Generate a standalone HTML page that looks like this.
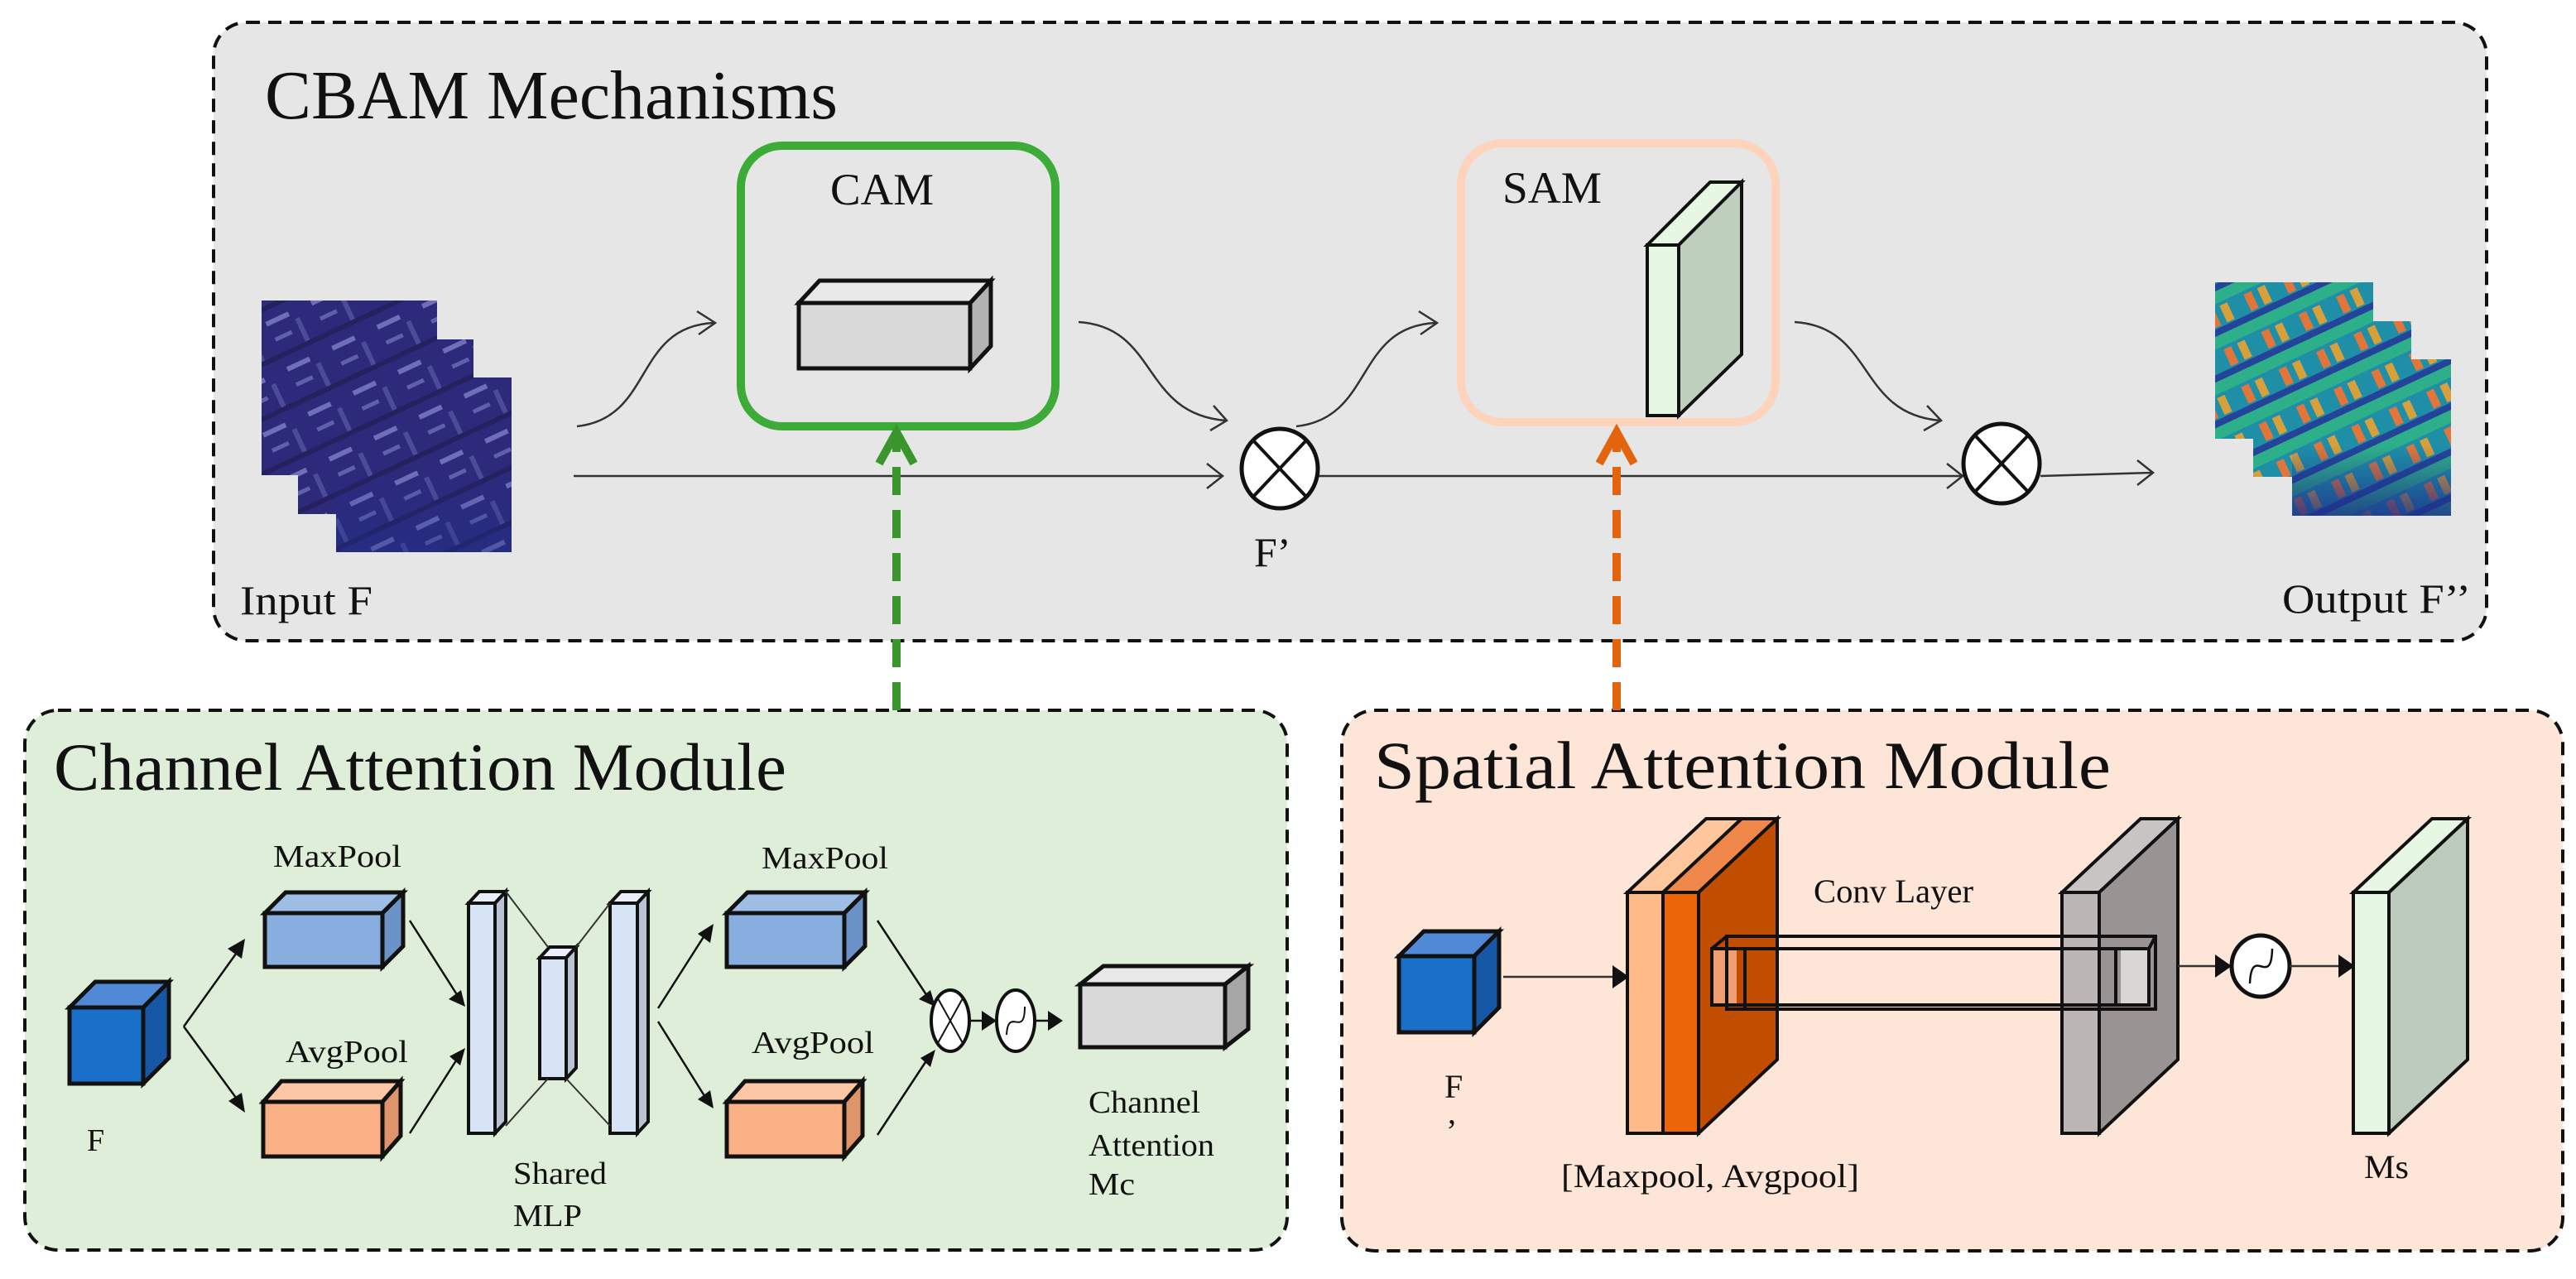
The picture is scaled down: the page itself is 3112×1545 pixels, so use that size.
<!DOCTYPE html>
<html><head><meta charset="utf-8"><style>
html,body{margin:0;padding:0;background:#fff;}
svg{display:block;}
text{font-family:"Liberation Serif",serif;fill:#111;}
</style></head><body>
<svg width="3112" height="1545" viewBox="0 0 3112 1545" xmlns="http://www.w3.org/2000/svg">
<defs>
<pattern id="sat" width="60" height="60" patternUnits="userSpaceOnUse" patternTransform="rotate(-25)">
<rect width="60" height="60" fill="#2d2a7c"/>
<rect x="6" y="8" width="30" height="6" fill="#6e6fb8"/>
<rect x="8" y="30" width="22" height="5" fill="#5e61aa"/>
<rect x="40" y="20" width="6" height="30" fill="#4b4c98"/>
<rect x="0" y="50" width="60" height="6" fill="#24215e"/>
</pattern>
<pattern id="heat" width="50" height="50" patternUnits="userSpaceOnUse" patternTransform="rotate(-25)">
<rect width="50" height="50" fill="#1f8fa8"/>
<rect x="0" y="0" width="50" height="14" fill="#2db08a"/>
<rect x="6" y="18" width="10" height="22" fill="#e2763a"/>
<rect x="24" y="18" width="10" height="22" fill="#d8a03a"/>
<rect x="0" y="42" width="50" height="8" fill="#24449a"/>
</pattern>
<linearGradient id="fadeb" x1="0" y1="0" x2="0" y2="1"><stop offset="0.55" stop-color="#1d2f8a" stop-opacity="0"/><stop offset="1" stop-color="#1d2f8a" stop-opacity="0.8"/></linearGradient>
</defs>

<!-- Top panel -->
<rect x="258" y="27" width="2746" height="747" rx="40" fill="#e6e6e6" stroke="#111" stroke-width="4" stroke-dasharray="16 10"/>
<text x="320" y="143" font-size="84" textLength="692" lengthAdjust="spacingAndGlyphs">CBAM Mechanisms</text>

<!-- input images -->
<rect x="316" y="363" width="212" height="211" fill="url(#sat)"/>
<rect x="360" y="410" width="212" height="211" fill="url(#sat)"/>
<rect x="406" y="456" width="212" height="211" fill="url(#sat)"/>
<rect x="406" y="456" width="212" height="211" fill="url(#fadeb)" opacity="0.5"/>
<text x="290" y="742" font-size="50" textLength="160" lengthAdjust="spacingAndGlyphs">Input F</text>

<!-- CAM box -->
<rect x="895" y="176" width="380" height="339" rx="50" fill="none" stroke="#3dab37" stroke-width="10"/>
<text x="1003" y="247" font-size="54" textLength="125" lengthAdjust="spacingAndGlyphs">CAM</text>
<g stroke="#111" stroke-width="5" stroke-linejoin="miter">
<polygon points="965,366 990,339 1197,339 1172,366" fill="#e9e9e9"/>
<polygon points="1172,366 1197,339 1197,418 1172,445" fill="#b3b3b3"/>
<rect x="965" y="366" width="207" height="79" fill="#d9d9d9"/>
</g>

<!-- SAM box -->
<rect x="1765" y="173" width="380" height="337" rx="50" fill="none" stroke="#fdd3bc" stroke-width="10"/>
<text x="1815" y="245" font-size="54" textLength="120" lengthAdjust="spacingAndGlyphs">SAM</text>
<g stroke="#111" stroke-width="4">
<polygon points="1990,296 2066,220 2104,220 2028,296" fill="#e6f8e3"/>
<polygon points="2028,296 2104,220 2104,428 2028,502" fill="#bfcfbd"/>
<rect x="1990" y="296" width="38" height="206" fill="#e6f8e3"/>
</g>

<!-- connectors top -->
<g fill="none" stroke="#333" stroke-width="2.5">
<path d="M697,515 C790,505 765,395 862,390"/>
<polyline points="842,376 864,390 844,404"/>
<path d="M1303,389 C1400,395 1378,500 1481,508"/>
<polyline points="1466,490 1482,508 1462,520"/>
<line x1="693" y1="575" x2="1476" y2="575"/>
<polyline points="1458,560 1477,575 1458,590"/>
<path d="M1566,515 C1660,505 1636,395 1734,390"/>
<polyline points="1714,376 1736,390 1716,404"/>
<path d="M2168,389 C2265,395 2243,500 2344,508"/>
<polyline points="2328,490 2345,508 2324,520"/>
<line x1="1592" y1="575" x2="2370" y2="575"/>
<polyline points="2352,560 2371,575 2352,590"/>
<line x1="2465" y1="575" x2="2600" y2="571"/>
<polyline points="2582,556 2601,571 2582,586"/>
</g>
<!-- otimes -->
<g stroke="#111" stroke-width="5" fill="#fff">
<ellipse cx="1546" cy="566" rx="46" ry="48"/>
<ellipse cx="2418" cy="560" rx="46" ry="48"/>
</g>
<g stroke="#111" stroke-width="4">
<line x1="1514" y1="532" x2="1578" y2="600"/><line x1="1578" y1="532" x2="1514" y2="600"/>
<line x1="2386" y1="526" x2="2450" y2="594"/><line x1="2450" y1="526" x2="2386" y2="594"/>
</g>
<text x="1515" y="684" font-size="50">F’</text>

<!-- output images -->
<rect x="2676" y="341" width="191" height="189" fill="url(#heat)"/>
<rect x="2722" y="388" width="191" height="188" fill="url(#heat)"/>
<rect x="2769" y="434" width="192" height="189" fill="url(#heat)"/>
<rect x="2769" y="434" width="192" height="189" fill="url(#fadeb)"/>
<text x="2757" y="740" font-size="50" textLength="228" lengthAdjust="spacingAndGlyphs">Output F’’</text>

<!-- Bottom-left panel -->
<rect x="30" y="858" width="1525" height="652" rx="40" fill="#deeed8" stroke="#111" stroke-width="4" stroke-dasharray="16 10"/>
<text x="65" y="954" font-size="82" textLength="885" lengthAdjust="spacingAndGlyphs">Channel Attention Module</text>

<!-- Bottom-right panel -->
<rect x="1621" y="858" width="1475" height="653" rx="40" fill="#fde5d7" stroke="#111" stroke-width="4" stroke-dasharray="16 10"/>
<text x="1660" y="952" font-size="82" textLength="890" lengthAdjust="spacingAndGlyphs">Spatial Attention Module</text>

<!-- dashed arrows -->
<line x1="1083" y1="858" x2="1083" y2="530" stroke="#3a962c" stroke-width="10" stroke-dasharray="34 18"/>
<polyline points="1062,560 1083,522 1104,560" fill="none" stroke="#3a962c" stroke-width="10"/>
<line x1="1953" y1="858" x2="1953" y2="530" stroke="#e4640e" stroke-width="10" stroke-dasharray="34 18"/>
<polyline points="1932,560 1953,522 1974,560" fill="none" stroke="#e4640e" stroke-width="10"/>

<!-- Channel module contents -->
<g stroke="#111" stroke-width="5">
<!-- F cube -->
<polygon points="84,1217 115,1186 204,1186 173,1217" fill="#508ad6"/>
<polygon points="173,1217 204,1186 204,1278 173,1309" fill="#1658a6"/>
<rect x="84" y="1217" width="89" height="92" fill="#1a70c9"/>
<!-- MaxPool1 -->
<polygon points="320,1103 345,1078 487,1078 462,1103" fill="#9fbee6"/>
<polygon points="462,1103 487,1078 487,1143 462,1168" fill="#6c93c8"/>
<rect x="320" y="1103" width="142" height="65" fill="#87aedf"/>
<!-- AvgPool1 -->
<polygon points="318,1331 340,1306 484,1306 462,1331" fill="#fcc7a4"/>
<polygon points="462,1331 484,1306 484,1372 462,1397" fill="#e0946a"/>
<rect x="318" y="1331" width="144" height="66" fill="#fbb185"/>
<!-- MaxPool2 -->
<polygon points="878,1103 903,1078 1045,1078 1020,1103" fill="#9fbee6"/>
<polygon points="1020,1103 1045,1078 1045,1143 1020,1168" fill="#6c93c8"/>
<rect x="878" y="1103" width="142" height="65" fill="#87aedf"/>
<!-- AvgPool2 -->
<polygon points="878,1331 900,1306 1042,1306 1020,1331" fill="#fcc7a4"/>
<polygon points="1020,1331 1042,1306 1042,1372 1020,1397" fill="#e0946a"/>
<rect x="878" y="1331" width="142" height="66" fill="#fbb185"/>
<!-- gray cuboid -->
<polygon points="1305,1189 1333,1167 1508,1167 1480,1189" fill="#e8e8e8"/>
<polygon points="1480,1189 1508,1167 1508,1243 1480,1265" fill="#a6a6a6"/>
<rect x="1305" y="1189" width="175" height="76" fill="#d9d9d9"/>
</g>
<g stroke="#111" stroke-width="4">
<!-- bars -->
<polygon points="566,1091 579,1077 611,1077 598,1091" fill="#e8effa"/>
<polygon points="598,1091 611,1077 611,1355 598,1369" fill="#b9c3d3"/>
<rect x="566" y="1091" width="32" height="278" fill="#d6e4f5"/>
<polygon points="652,1157 664,1144 696,1144 684,1157" fill="#e8effa"/>
<polygon points="684,1157 696,1144 696,1290 684,1303" fill="#b9c3d3"/>
<rect x="652" y="1157" width="32" height="146" fill="#d6e4f5"/>
<polygon points="737,1091 750,1077 783,1077 770,1091" fill="#e8effa"/>
<polygon points="770,1091 783,1077 783,1355 770,1369" fill="#b9c3d3"/>
<rect x="737" y="1091" width="33" height="278" fill="#d6e4f5"/>
</g>
<g stroke="#333" stroke-width="2">
<line x1="611" y1="1077" x2="662" y2="1144"/>
<line x1="696" y1="1144" x2="737" y2="1091"/>
<line x1="611" y1="1360" x2="662" y2="1303"/>
<line x1="684" y1="1303" x2="737" y2="1360"/>
</g>
<!-- arrows channel -->
<g stroke="#111" stroke-width="2.5">
<line x1="222" y1="1240" x2="288" y2="1148"/>
<line x1="222" y1="1240" x2="288" y2="1330"/>
<line x1="495" y1="1112" x2="553" y2="1203"/>
<line x1="495" y1="1369" x2="553" y2="1278"/>
<line x1="795" y1="1218" x2="853" y2="1127"/>
<line x1="795" y1="1234" x2="853" y2="1327"/>
<line x1="1060" y1="1112" x2="1120" y2="1203"/>
<line x1="1060" y1="1371" x2="1120" y2="1280"/>
<line x1="1172" y1="1233" x2="1190" y2="1233"/>
<line x1="1250" y1="1233" x2="1268" y2="1233"/>
</g>
<g fill="#111">
<polygon points="296,1134 275,1146 292,1158"/>
<polygon points="296,1344 276,1330 292,1320"/>
<polygon points="562,1216 542,1207 557,1196"/>
<polygon points="562,1266 543,1276 556,1287"/>
<polygon points="862,1116 843,1128 858,1139"/>
<polygon points="862,1339 843,1328 858,1317"/>
<polygon points="1130,1216 1110,1207 1124,1196"/>
<polygon points="1130,1268 1112,1278 1124,1289"/>
<polygon points="1204,1233 1186,1221 1186,1245"/>
<polygon points="1284,1233 1266,1221 1266,1245"/>
</g>
<g stroke="#111" stroke-width="4" fill="#fff">
<ellipse cx="1148" cy="1233" rx="23" ry="37"/>
<ellipse cx="1227" cy="1233" rx="23" ry="37"/>
</g>
<g stroke="#111" stroke-width="2" fill="none">
<line x1="1133" y1="1206" x2="1163" y2="1260"/><line x1="1163" y1="1206" x2="1133" y2="1260"/>
<path d="M1216,1250 C1218,1215 1238,1255 1238,1216"/>
</g>
<g font-size="38">
<text x="330" y="1047" textLength="155" lengthAdjust="spacingAndGlyphs">MaxPool</text>
<text x="345" y="1283" textLength="148" lengthAdjust="spacingAndGlyphs">AvgPool</text>
<text x="920" y="1049" textLength="153" lengthAdjust="spacingAndGlyphs">MaxPool</text>
<text x="908" y="1272" textLength="148" lengthAdjust="spacingAndGlyphs">AvgPool</text>
<text x="105" y="1390">F</text>
<text x="620" y="1430" textLength="113" lengthAdjust="spacingAndGlyphs">Shared</text>
<text x="620" y="1481" textLength="83" lengthAdjust="spacingAndGlyphs">MLP</text>
<text x="1315" y="1344" textLength="135" lengthAdjust="spacingAndGlyphs">Channel</text>
<text x="1315" y="1396" textLength="152" lengthAdjust="spacingAndGlyphs">Attention</text>
<text x="1315" y="1443" textLength="56" lengthAdjust="spacingAndGlyphs">Mc</text>
</g>

<!-- Spatial module contents -->
<g stroke="#111" stroke-width="5">
<polygon points="1690,1155 1720,1125 1811,1125 1781,1155" fill="#508ad6"/>
<polygon points="1781,1155 1811,1125 1811,1217 1781,1247" fill="#1658a6"/>
<rect x="1690" y="1155" width="91" height="92" fill="#1a70c9"/>
</g>
<line x1="1816" y1="1180" x2="1950" y2="1180" stroke="#333" stroke-width="2.5"/>
<polygon points="1968,1180 1948,1166 1948,1194" fill="#111"/>
<g stroke="#111" stroke-width="4">
<!-- orange stack -->
<polygon points="1966,1078 2061,989 2104,989 2009,1078" fill="#fdc69c"/>
<polygon points="2009,1078 2104,989 2147,989 2052,1078" fill="#f0874a"/>
<polygon points="2052,1078 2147,989 2147,1280 2052,1369" fill="#c04d00"/>
<rect x="1966" y="1078" width="43" height="291" fill="#fdbb8a"/>
<rect x="2009" y="1078" width="43" height="291" fill="#ec6508"/>
<!-- gray slab -->
<polygon points="2491,1078 2586,989 2631,989 2536,1078" fill="#c9c4c4"/>
<polygon points="2536,1078 2631,989 2631,1280 2536,1369" fill="#999393"/>
<rect x="2491" y="1078" width="45" height="291" fill="#bcb5b5"/>
<!-- green slab Ms -->
<polygon points="2843,1078 2938,989 2981,989 2886,1078" fill="#e6f8e3"/>
<polygon points="2886,1078 2981,989 2981,1280 2886,1369" fill="#bccbbb"/>
<rect x="2843" y="1078" width="43" height="291" fill="#e6f8e3"/>
</g>
<!-- conv tube -->
<rect x="2068" y="1148" width="30" height="66" fill="#f4a77e" opacity="0.9"/>
<rect x="2562" y="1148" width="36" height="66" fill="#e0dede" opacity="0.9"/>
<g fill="none" stroke="#111" stroke-width="4">
<rect x="2068" y="1146" width="528" height="68"/>
<rect x="2086" y="1131" width="518" height="88"/>
<line x1="2068" y1="1146" x2="2086" y2="1131"/>
<line x1="2596" y1="1146" x2="2604" y2="1131"/>
<line x1="2108" y1="1146" x2="2108" y2="1218"/>
<line x1="2556" y1="1146" x2="2556" y2="1214"/>
</g>
<line x1="2631" y1="1167" x2="2680" y2="1167" stroke="#333" stroke-width="2.5"/>
<polygon points="2696,1167 2676,1153 2676,1181" fill="#111"/>
<ellipse cx="2731" cy="1167" rx="35" ry="37" fill="#fff" stroke="#111" stroke-width="5"/>
<path d="M2718,1188 C2720,1140 2744,1195 2745,1146" fill="none" stroke="#111" stroke-width="2.5"/>
<line x1="2766" y1="1167" x2="2826" y2="1167" stroke="#333" stroke-width="2.5"/>
<polygon points="2845,1167 2825,1153 2825,1181" fill="#111"/>
<g font-size="40">
<text x="2191" y="1090" textLength="193" lengthAdjust="spacingAndGlyphs">Conv Layer</text>
<text x="1745" y="1326">F</text>
<text x="1749" y="1357">,</text>
<text x="1886" y="1434" textLength="360" lengthAdjust="spacingAndGlyphs">[Maxpool,  Avgpool]</text>
<text x="2856" y="1423" textLength="54" lengthAdjust="spacingAndGlyphs">Ms</text>
</g>
</svg>
</body></html>
